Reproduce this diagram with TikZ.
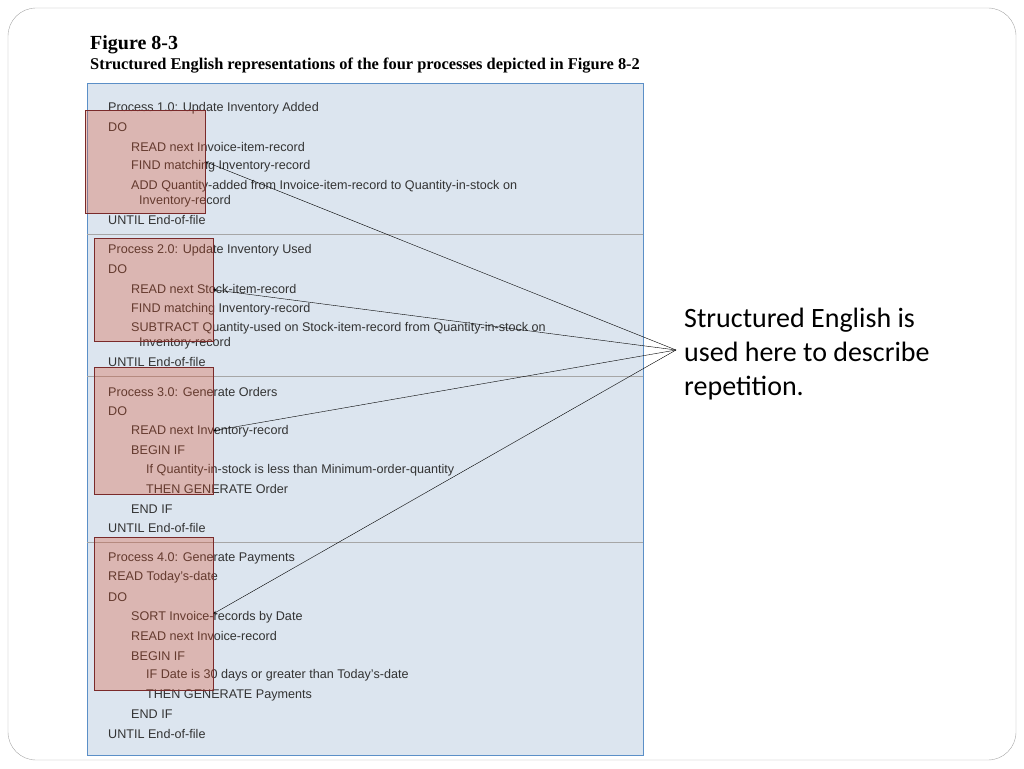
\documentclass[tikz,border=0pt]{standalone}
\usepackage{fontspec}
\setmainfont{Liberation Sans}
\newfontfamily\slidefont{Carlito}
\newfontfamily\figfont{Liberation Serif}
\usetikzlibrary{arrows}
\definecolor{panelblue}{HTML}{DCE5EF}
\definecolor{panelline}{HTML}{5B8FC7}
\definecolor{boxred}{HTML}{7A2A2A}
\tikzstyle{line} = [anchor=west, inner sep=0pt, font=\fontsize{12.6}{14}\selectfont, text=black!80]
\tikzstyle{loopbox} = [draw=boxred, fill=red!40!brown, fill opacity=0.3, inner sep=0pt, anchor=north west]
\tikzstyle{arrow} = [->,>=stealth, thin]
\begin{document}
\begin{tikzpicture}[x=1pt,y=-1pt]
      \useasboundingbox (0,0) rectangle (1024,768);
      % slide frame
      \draw [gray!70, rounded corners=28pt] (8,8) rectangle (1016,760);

      % figure heading
      \node (title) [anchor=west, inner sep=0pt, font=\figfont\bfseries\fontsize{20}{22}\selectfont] at (90,45) {Figure 8-3};
      \node (subtitle) [anchor=west, inner sep=0pt, font=\figfont\bfseries\fontsize{16.4}{18}\selectfont] at (90,66) {Structured English representations of the four processes depicted in Figure 8-2};

      % panel
      \draw [panelline, fill=panelblue] (87,83) rectangle (643,755);
      \draw [gray!70] (87,234) -- (643,234);
      \draw [gray!70] (87,376) -- (643,376);
      \draw [gray!70] (87,542) -- (643,542);

      % process 1.0
      \node (a1) [line] at (108,108) {Process 1.0: Update Inventory Added};
      \node (a2) [line] at (108,127) {DO};
      \node (a3) [line] at (131,147) {READ next Invoice-item-record};
      \node (a4) [line] at (131,166) {FIND matching Inventory-record};
      \node (a5) [line] at (131,186) {ADD Quantity-added from Invoice-item-record to Quantity-in-stock on};
      \node (a6) [line] at (139,201) {Inventory-record};
      \node (a7) [line] at (108,220) {UNTIL End-of-file};

      % process 2.0
      \node (b1) [line] at (108,250) {Process 2.0: Update Inventory Used};
      \node (b2) [line] at (108,269) {DO};
      \node (b3) [line] at (131,289) {READ next Stock-item-record};
      \node (b4) [line] at (131,309) {FIND matching Inventory-record};
      \node (b5) [line] at (131,328) {SUBTRACT Quantity-used on Stock-item-record from Quantity-in-stock on};
      \node (b6) [line] at (139,343) {Inventory-record};
      \node (b7) [line] at (108,362) {UNTIL End-of-file};

      % process 3.0
      \node (c1) [line] at (108,392) {Process 3.0: Generate Orders};
      \node (c2) [line] at (108,411) {DO};
      \node (c3) [line] at (131,431) {READ next Inventory-record};
      \node (c4) [line] at (131,450) {BEGIN IF};
      \node (c5) [line] at (146,470) {If Quantity-in-stock is less than Minimum-order-quantity};
      \node (c6) [line] at (146,489) {THEN GENERATE Order};
      \node (c7) [line] at (131,509) {END IF};
      \node (c8) [line] at (108,528) {UNTIL End-of-file};

      % process 4.0
      \node (d1) [line] at (108,558) {Process 4.0: Generate Payments};
      \node (d2) [line] at (108,577) {READ Today's-date};
      \node (d3) [line] at (108,597) {DO};
      \node (d4) [line] at (131,617) {SORT Invoice-records by Date};
      \node (d5) [line] at (131,636) {READ next Invoice-record};
      \node (d6) [line] at (131,656) {BEGIN IF};
      \node (d7) [line] at (146,675) {IF Date is 30 days or greater than Today's-date};
      \node (d8) [line] at (146,695) {THEN GENERATE Payments};
      \node (d9) [line] at (131,714) {END IF};
      \node (d10) [line] at (108,734) {UNTIL End-of-file};

      % highlighted loops
      \node (box1) [loopbox, minimum width=120pt, minimum height=103pt] at (85,110) {};
      \node (box2) [loopbox, minimum width=119pt, minimum height=103pt] at (94,238) {};
      \node (box3) [loopbox, minimum width=119pt, minimum height=127pt] at (94,367) {};
      \node (box4) [loopbox, minimum width=119pt, minimum height=153pt] at (94,537) {};

      % callout
      \node (note) [anchor=west, inner sep=0pt, align=left, font=\slidefont\fontsize{28}{34}\selectfont] at (684,354) {Structured English is\\used here to describe\\repetition.};
      \coordinate (tip) at (676,350);
      \draw [arrow] (tip) -- (box1.east);
      \draw [arrow] (tip) -- (box2.east);
      \draw [arrow] (tip) -- (box3.east);
      \draw [arrow] (tip) -- (box4.east);
    \end{tikzpicture}
\end{document}
